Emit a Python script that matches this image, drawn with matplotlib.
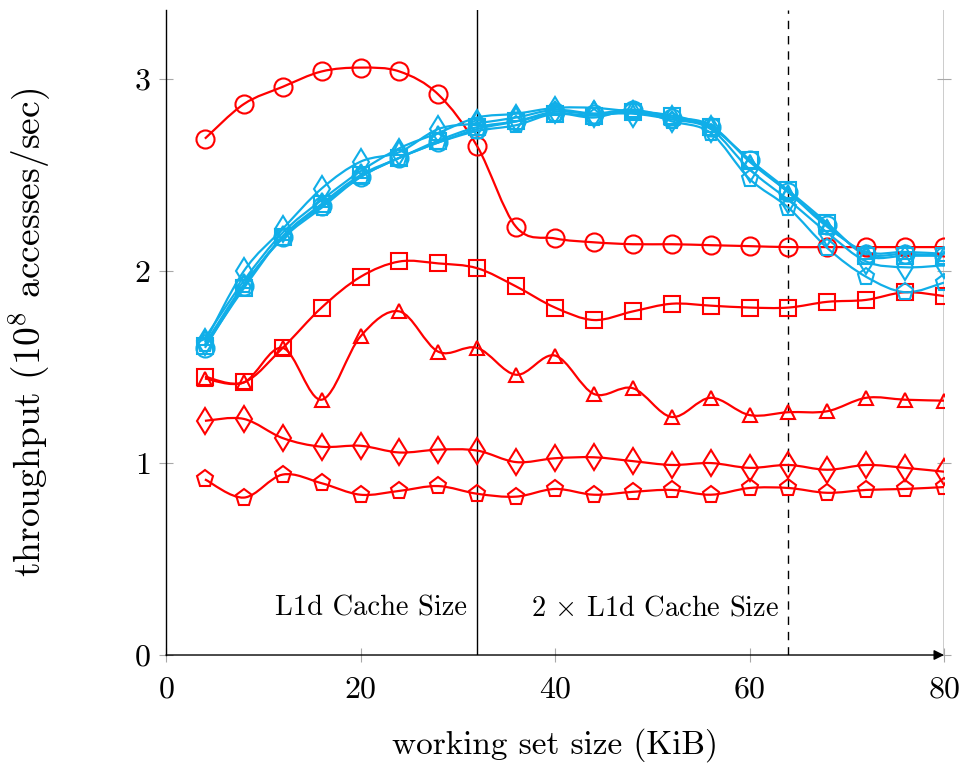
import numpy as np
import matplotlib.pyplot as plt
from matplotlib.path import Path
from matplotlib.patches import PathPatch

plt.rcParams['font.family'] = 'cmr10'
plt.rcParams['mathtext.fontset'] = 'cm'
plt.rcParams['axes.formatter.use_mathtext'] = True

# working set sizes (KiB)
sizes = np.arange(4, 81, 4)

# red series
red_circle = [2.69, 2.87, 2.96, 3.04, 3.06, 3.04, 2.92, 2.65, 2.23, 2.17,
              2.15, 2.14, 2.14, 2.135, 2.13, 2.125, 2.125, 2.125, 2.125, 2.125]
red_square = [1.45, 1.42, 1.60, 1.81, 1.97, 2.05, 2.04, 2.015, 1.92, 1.81,
              1.745, 1.79, 1.83, 1.82, 1.81, 1.81, 1.84, 1.85, 1.89, 1.87]
red_triangle = [1.44, 1.42, 1.60, 1.33, 1.66, 1.79, 1.58, 1.60, 1.46, 1.56,
                1.36, 1.39, 1.24, 1.34, 1.25, 1.265, 1.27, 1.34, 1.33, 1.325]
red_diamond = [1.22, 1.23, 1.13, 1.085, 1.09, 1.055, 1.07, 1.065, 1.005, 1.025,
               1.03, 1.01, 0.99, 1.00, 0.975, 0.99, 0.965, 0.99, 0.975, 0.955]
red_pentagon = [0.915, 0.82, 0.94, 0.895, 0.835, 0.855, 0.88, 0.84, 0.825, 0.865,
                0.835, 0.85, 0.86, 0.835, 0.87, 0.87, 0.845, 0.86, 0.865, 0.875]

# cyan series
cyan_circle = [1.60, 1.92, 2.18, 2.34, 2.49, 2.59, 2.67, 2.74, 2.78, 2.83,
               2.82, 2.84, 2.80, 2.75, 2.58, 2.41, 2.24, 2.09, 2.09, 2.08]
cyan_square = [1.61, 1.91, 2.18, 2.35, 2.50, 2.59, 2.68, 2.75, 2.78, 2.82,
               2.81, 2.83, 2.81, 2.75, 2.58, 2.42, 2.25, 2.08, 2.08, 2.08]
cyan_triangle = [1.65, 1.95, 2.20, 2.37, 2.52, 2.64, 2.72, 2.80, 2.82, 2.85,
                 2.85, 2.83, 2.80, 2.76, 2.57, 2.41, 2.23, 2.10, 2.10, 2.09]
cyan_diamond = [1.63, 2.00, 2.22, 2.43, 2.57, 2.62, 2.74, 2.77, 2.80, 2.84,
                2.82, 2.82, 2.79, 2.74, 2.53, 2.37, 2.20, 2.05, 2.02, 2.03]
cyan_pentagon = [1.62, 1.93, 2.17, 2.33, 2.49, 2.59, 2.67, 2.73, 2.76, 2.82,
                 2.80, 2.84, 2.78, 2.72, 2.48, 2.33, 2.12, 1.97, 1.89, 1.94]

RED = '#ff0000'
CYAN = '#10aee8'


def smooth_line(ax, x, y, color):
    # pgfplots-like smooth curve through the points (cubic bezier segments)
    pts = np.column_stack([x, y]).astype(float)
    n = len(pts)
    verts = [pts[0]]
    codes = [Path.MOVETO]
    for i in range(n - 1):
        p0 = pts[max(i - 1, 0)]
        p1 = pts[i]
        p2 = pts[i + 1]
        p3 = pts[min(i + 2, n - 1)]
        verts += [p1 + (p2 - p0) / 6, p2 - (p3 - p1) / 6, p2]
        codes += [Path.CURVE4] * 3
    ax.add_patch(PathPatch(Path(verts, codes), fill=False, ec=color, lw=1.6,
                           zorder=2))


def series(ax, y, color, marker, ms):
    smooth_line(ax, sizes, y, color)
    ax.plot(sizes, y, ls='none', marker=marker, ms=ms, mfc='none', mec=color,
            mew=1.5, zorder=3)


fig = plt.figure(figsize=(9.64, 7.66), dpi=100)
ax = fig.add_axes([0.1722, 0.1449, 0.8071, 0.842])

series(ax, red_circle, RED, 'o', 13)
series(ax, red_square, RED, 's', 11.5)
series(ax, red_triangle, RED, '^', 10)
series(ax, red_diamond, RED, 'd', 13)
series(ax, red_pentagon, RED, 'p', 12.5)

series(ax, cyan_circle, CYAN, 'o', 13)
series(ax, cyan_pentagon, CYAN, 'p', 12.5)
series(ax, cyan_diamond, CYAN, 'd', 13)
series(ax, cyan_triangle, CYAN, '^', 10)
series(ax, cyan_square, CYAN, 's', 11.5)

ax.set_xlim(0, 80)
ax.set_ylim(0, 3.36)

# cache size markers
ax.axvline(32, color='black', lw=1.0, zorder=1)
ax.axvline(64, color='black', lw=1.0, ls=(0, (6, 5)), zorder=1)
ax.axvline(80, color='black', lw=1.0, zorder=1)
ax.text(31.0, 0.245, 'L1d Cache Size', ha='right', va='center', fontsize=20.5)
ax.text(63.0, 0.245, r'2 $\times$ L1d Cache Size', ha='right', va='center',
        fontsize=20.5)

ax.spines['top'].set_visible(False)
ax.spines['right'].set_visible(False)
ax.spines['bottom'].set_visible(False)
ax.spines['left'].set_linewidth(1.0)
ax.annotate('', xy=(1.0, 0), xytext=(0, 0), xycoords='axes fraction',
            arrowprops=dict(arrowstyle='-|>', color='black', lw=1.0,
                            mutation_scale=15, shrinkA=0, shrinkB=0))

ax.set_xticks([0, 20, 40, 60, 80])
ax.set_yticks([0, 1, 2, 3])
ax.tick_params(direction='inout', length=10, width=0.8, color='#a8a8a8',
               labelsize=23, right=True, pad=6)
ax.tick_params(axis='x', pad=10)

ax.set_xlabel('working set size (KiB)', fontsize=24, labelpad=18)
ax.set_ylabel(r'throughput ($10^8$ accesses/sec)', fontsize=27, labelpad=58)

fig.savefig('out.png', dpi=100)
